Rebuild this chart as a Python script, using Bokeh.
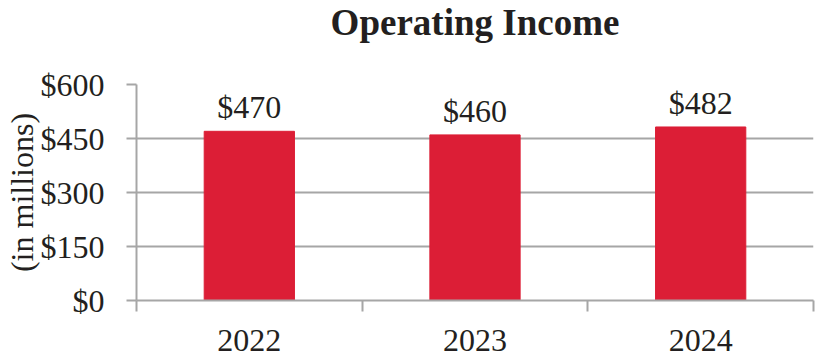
from bokeh.plotting import figure
from bokeh.models import ColumnDataSource, FixedTicker, NumeralTickFormatter, LabelSet, Range1d, Title
from bokeh.embed import file_html
from bokeh.resources import INLINE

# ---- data ----
years = ["2022", "2023", "2024"]
income = [470, 460, 482]          # operating income, $ millions
y_ticks = [0, 150, 300, 450, 600]
title_text = "Operating Income"

value_labels = ["$" + str(v) for v in income]
x_pos = [i + 0.5 for i in range(len(years))]
boundaries = list(range(len(years) + 1))

src = ColumnDataSource(dict(x=x_pos, top=income, label=value_labels))

FONT = "Liberation Serif"
GRAY = "#A6A6A6"
TXT = "#231F20"
RED = "#DC1E36"

p = figure(width=815, height=362, output_backend="svg", toolbar_location=None,
           x_range=Range1d(0, len(years)), y_range=Range1d(0, y_ticks[-1]),
           min_border_left=133, min_border_right=2, min_border_top=84,
           min_border_bottom=62)

# blank spacer panel between plot area and title (pushes title to top edge)
p.add_layout(Title(text=" ", text_font_size="1px", standoff=37), "above")
p.title = Title(text=title_text, align="center", vertical_align="top",
                standoff=0, text_font=FONT, text_font_size="37px",
                text_font_style="bold", text_color=TXT)
p.outline_line_color = None
p.background_fill_color = "white"
p.border_fill_color = "white"

p.vbar(x="x", top="top", width=0.4, source=src, color=RED)

labels = LabelSet(x="x", y="top", text="label", source=src, text_align="center",
                  text_baseline="alphabetic", y_offset=13, text_font=FONT,
                  text_font_size="32px", text_color=TXT)
p.add_layout(labels)

# x axis: labels at category centers, ticks at category boundaries
xa = p.xaxis[0]
xa.ticker = FixedTicker(ticks=x_pos, minor_ticks=boundaries)
xa.major_label_overrides = {x: y for x, y in zip(x_pos, years)}
xa.major_tick_out = 0
xa.major_tick_in = 0
xa.minor_tick_out = 11
xa.minor_tick_in = 0
xa.minor_tick_line_color = GRAY
xa.minor_tick_line_width = 2
xa.axis_line_color = GRAY
xa.axis_line_width = 2
xa.major_label_standoff = 18
xa.major_label_text_font = FONT
xa.major_label_text_font_size = "32px"
xa.major_label_text_color = TXT

ya = p.yaxis[0]
ya.ticker = FixedTicker(ticks=y_ticks, minor_ticks=[])
ya.formatter = NumeralTickFormatter(format="$0")
ya.major_tick_out = 10
ya.major_tick_in = 0
ya.major_tick_line_color = GRAY
ya.major_tick_line_width = 2
ya.minor_tick_line_color = None
ya.axis_line_color = GRAY
ya.axis_line_width = 2
ya.major_label_standoff = 22
ya.major_label_text_font = FONT
ya.major_label_text_font_size = "32px"
ya.major_label_text_color = TXT
ya.axis_label = "(in millions)"
ya.axis_label_standoff = -2
ya.axis_label_text_font = FONT
ya.axis_label_text_font_size = "32px"
ya.axis_label_text_line_height = 0.8
ya.axis_label_text_font_style = "normal"
ya.axis_label_text_color = TXT

p.xgrid.visible = False
p.ygrid.ticker = FixedTicker(ticks=y_ticks)
p.ygrid.grid_line_color = GRAY
p.ygrid.grid_line_width = 2

open("out.html", "w").write(file_html(p, INLINE))
